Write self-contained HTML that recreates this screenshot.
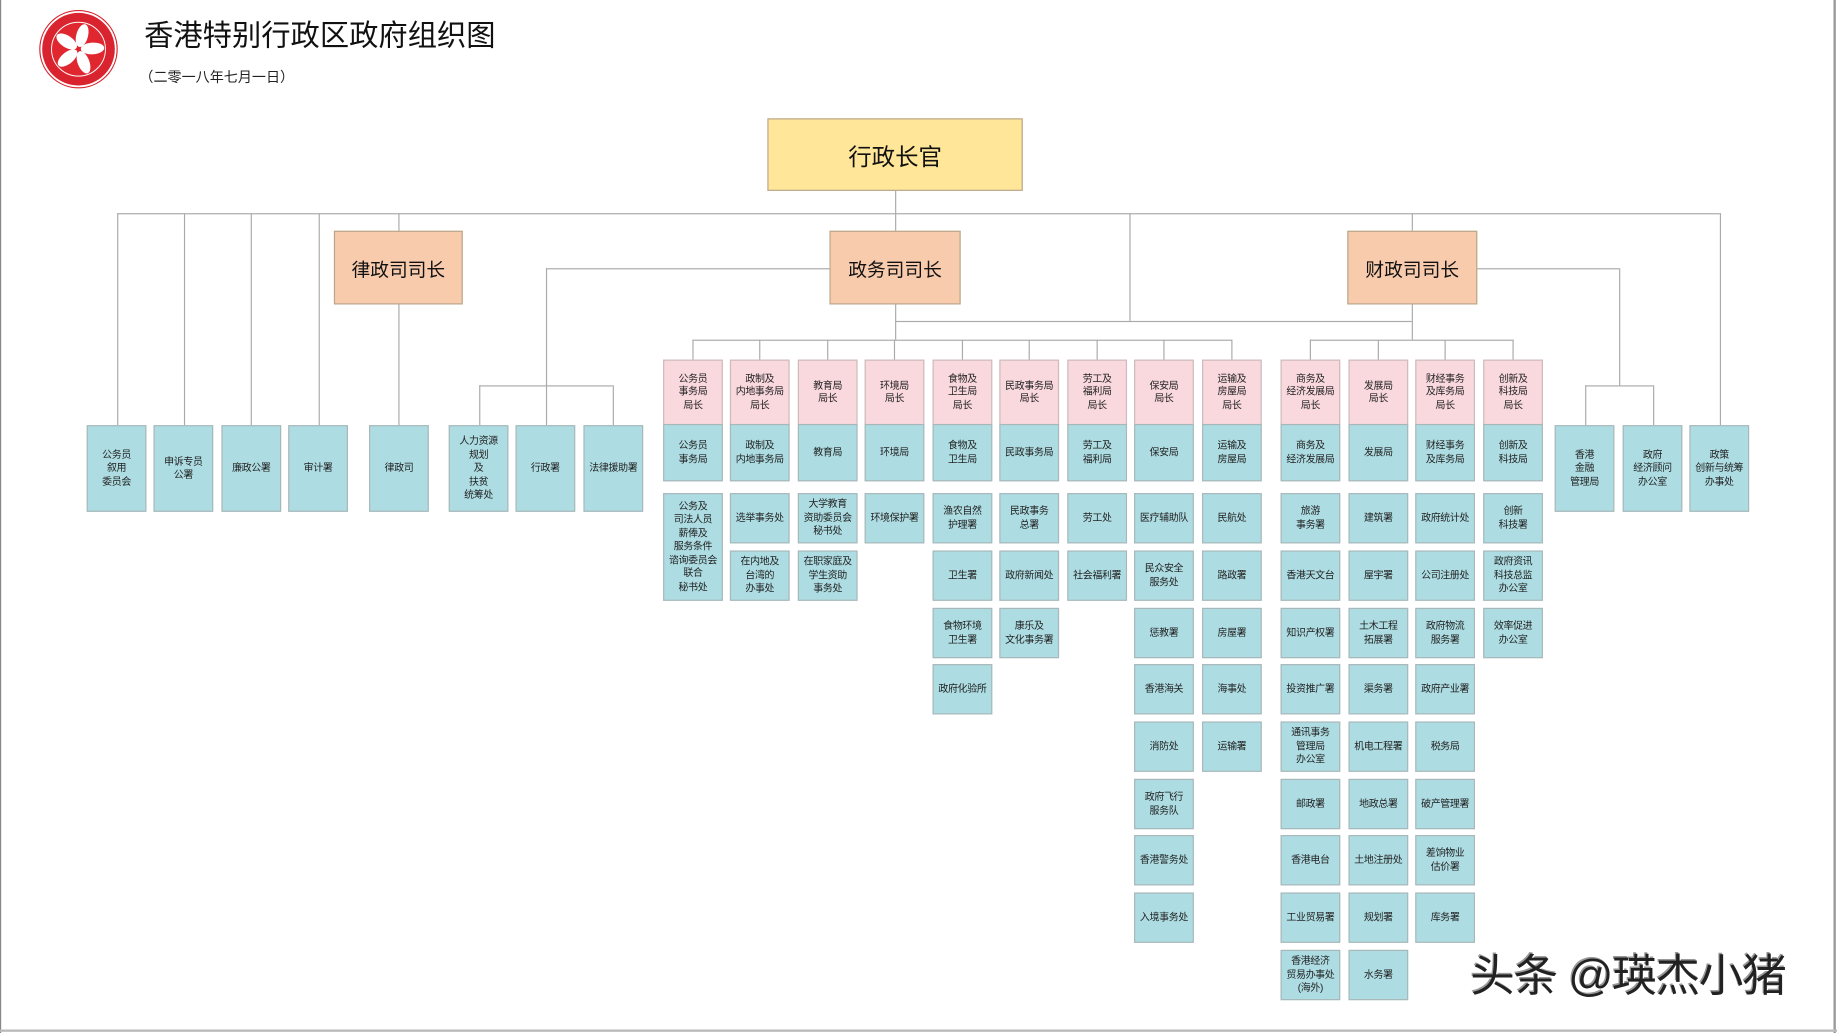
<!DOCTYPE html>
<html><head><meta charset="utf-8"><style>
html,body{margin:0;padding:0;background:#fff;}
body{width:1837px;height:1033px;overflow:hidden;position:relative;}
#s{position:absolute;left:0;top:0;width:1568px;height:882px;transform:scale(1.17156,1.1712);transform-origin:0 0;font-family:"Liberation Sans","Noto Sans CJK SC",sans-serif;}
.b{position:absolute;width:51px;display:flex;align-items:center;justify-content:center;text-align:center;font-size:8.5px;line-height:11.5px;border:1px solid #a9b7b9;box-sizing:border-box;color:#222;background:#addde3;letter-spacing:-0.3px;}
.p{background:#f9d8de;border-color:#cbb;}
.h{position:absolute;background:#aaa;height:1px;}
.v{position:absolute;background:#aaa;width:1px;}
.big{position:absolute;display:flex;align-items:center;justify-content:center;border:1px solid #b9a68a;box-sizing:border-box;color:#111;}
</style></head><body><div id="s">
<div style="position:absolute;left:0;top:0;width:1px;height:882px;background:#888"></div>
<div style="position:absolute;left:1565px;top:0;width:2px;height:882px;background:#999"></div>
<div style="position:absolute;left:0;top:879px;width:1568px;height:2px;background:#bbb"></div>
<svg style="position:absolute;left:33px;top:8px" width="68" height="68" viewBox="0 0 68 68">
<circle cx="34" cy="34" r="33" fill="#fff" stroke="#d9232e" stroke-width="1"/>
<circle cx="34" cy="34" r="31" fill="#d9232e"/>
<circle cx="34" cy="34" r="23" fill="#e0262f" stroke="#fff" stroke-width="0.8"/>
<g fill="#fff">
<ellipse cx="34" cy="22" rx="5" ry="10" transform="rotate(15 34 34)"/>
<ellipse cx="34" cy="22" rx="5" ry="10" transform="rotate(87 34 34)"/>
<ellipse cx="34" cy="22" rx="5" ry="10" transform="rotate(159 34 34)"/>
<ellipse cx="34" cy="22" rx="5" ry="10" transform="rotate(231 34 34)"/>
<ellipse cx="34" cy="22" rx="5" ry="10" transform="rotate(303 34 34)"/>
</g></svg>
<div style="position:absolute;left:123px;top:11px;font-size:25px;color:#111;">香港特别行政区政府组织图</div>
<div style="position:absolute;left:119px;top:57px;font-size:12px;color:#222;">（二零一八年七月一日）</div>

<div class="big" style="left:655px;top:101px;width:218px;height:62px;background:#ffe699;font-size:20px;">行政长官</div>
<div class="big" style="left:285px;top:197px;width:110px;height:63px;background:#f8cbad;font-size:16px;">律政司司长</div>
<div class="big" style="left:708px;top:197px;width:112px;height:63px;background:#f8cbad;font-size:16px;">政务司司长</div>
<div class="big" style="left:1150px;top:197px;width:111px;height:63px;background:#f8cbad;font-size:16px;">财政司司长</div>

<div class="h" style="left:100px;top:182px;width:1368px"></div>
<div class="v" style="left:764px;top:163px;height:34px"></div>
<div class="v" style="left:100px;top:182px;height:181px"></div>
<div class="v" style="left:157px;top:182px;height:181px"></div>
<div class="v" style="left:214px;top:182px;height:181px"></div>
<div class="v" style="left:272px;top:182px;height:181px"></div>
<div class="v" style="left:340px;top:182px;height:15px"></div>
<div class="v" style="left:340px;top:260px;height:103px"></div>
<div class="v" style="left:964px;top:182px;height:92px"></div>
<div class="v" style="left:1205px;top:182px;height:15px"></div>
<div class="v" style="left:1468px;top:182px;height:181px"></div>
<div class="h" style="left:466px;top:229px;width:242px"></div>
<div class="v" style="left:466px;top:229px;height:134px"></div>
<div class="h" style="left:409px;top:329px;width:114px"></div>
<div class="v" style="left:409px;top:329px;height:34px"></div>
<div class="v" style="left:523px;top:329px;height:34px"></div>
<div class="v" style="left:764px;top:260px;height:30px"></div>
<div class="h" style="left:764px;top:274px;width:441px"></div>
<div class="v" style="left:1205px;top:260px;height:30px"></div>
<div class="h" style="left:591px;top:290px;width:461px"></div>
<div class="h" style="left:1118px;top:290px;width:174px"></div>
<div class="h" style="left:1261px;top:229px;width:121px"></div>
<div class="v" style="left:1382px;top:229px;height:100px"></div>
<div class="h" style="left:1353px;top:329px;width:58px"></div>
<div class="v" style="left:1353px;top:329px;height:34px"></div>
<div class="v" style="left:1411px;top:329px;height:34px"></div>
<div class="v" style="left:591px;top:290px;height:17px"></div>
<div class="v" style="left:648px;top:290px;height:17px"></div>
<div class="v" style="left:706px;top:290px;height:17px"></div>
<div class="v" style="left:763px;top:290px;height:17px"></div>
<div class="v" style="left:821px;top:290px;height:17px"></div>
<div class="v" style="left:878px;top:290px;height:17px"></div>
<div class="v" style="left:936px;top:290px;height:17px"></div>
<div class="v" style="left:993px;top:290px;height:17px"></div>
<div class="v" style="left:1051px;top:290px;height:17px"></div>
<div class="v" style="left:1118px;top:290px;height:17px"></div>
<div class="v" style="left:1176px;top:290px;height:17px"></div>
<div class="v" style="left:1233px;top:290px;height:17px"></div>
<div class="v" style="left:1291px;top:290px;height:17px"></div>

<div class="b" style="left:74px;top:363px;height:74px">公务员<br>叙用<br>委员会</div>
<div class="b" style="left:131px;top:363px;height:74px">申诉专员<br>公署</div>
<div class="b" style="left:189px;top:363px;height:74px">廉政公署</div>
<div class="b" style="left:246px;top:363px;height:74px">审计署</div>
<div class="b" style="left:315px;top:363px;height:74px">律政司</div>
<div class="b" style="left:383px;top:363px;height:74px">人力资源<br>规划<br>及<br>扶贫<br>统筹处</div>
<div class="b" style="left:440px;top:363px;height:74px">行政署</div>
<div class="b" style="left:498px;top:363px;height:74px">法律援助署</div>
<div class="b" style="left:1327px;top:363px;height:74px">香港<br>金融<br>管理局</div>
<div class="b" style="left:1385px;top:363px;height:74px">政府<br>经济顾问<br>办公室</div>
<div class="b" style="left:1442px;top:363px;height:74px">政策<br>创新与统筹<br>办事处</div>

<div class="b p" style="left:566px;top:307px;height:56px">公务员<br>事务局<br>局长</div>
<div class="b" style="left:566px;top:362px;height:49px">公务员<br>事务局</div>
<div class="b" style="left:566px;top:421px;height:92px">公务及<br>司法人员<br>薪俸及<br>服务条件<br>谘询委员会<br>联合<br>秘书处</div>
<div class="b p" style="left:623px;top:307px;height:56px">政制及<br>内地事务局<br>局长</div>
<div class="b" style="left:623px;top:362px;height:49px">政制及<br>内地事务局</div>
<div class="b" style="left:623px;top:421px;height:43px">选举事务处</div>
<div class="b" style="left:623px;top:470px;height:43px">在内地及<br>台湾的<br>办事处</div>
<div class="b p" style="left:681px;top:307px;height:56px">教育局<br>局长</div>
<div class="b" style="left:681px;top:362px;height:49px">教育局</div>
<div class="b" style="left:681px;top:421px;height:43px">大学教育<br>资助委员会<br>秘书处</div>
<div class="b" style="left:681px;top:470px;height:43px">在职家庭及<br>学生资助<br>事务处</div>
<div class="b p" style="left:738px;top:307px;height:56px">环境局<br>局长</div>
<div class="b" style="left:738px;top:362px;height:49px">环境局</div>
<div class="b" style="left:738px;top:421px;height:43px">环境保护署</div>
<div class="b p" style="left:796px;top:307px;height:56px">食物及<br>卫生局<br>局长</div>
<div class="b" style="left:796px;top:362px;height:49px">食物及<br>卫生局</div>
<div class="b" style="left:796px;top:421px;height:43px">渔农自然<br>护理署</div>
<div class="b" style="left:796px;top:470px;height:43px">卫生署</div>
<div class="b" style="left:796px;top:519px;height:43px">食物环境<br>卫生署</div>
<div class="b" style="left:796px;top:567px;height:43px">政府化验所</div>
<div class="b p" style="left:853px;top:307px;height:56px">民政事务局<br>局长</div>
<div class="b" style="left:853px;top:362px;height:49px">民政事务局</div>
<div class="b" style="left:853px;top:421px;height:43px">民政事务<br>总署</div>
<div class="b" style="left:853px;top:470px;height:43px">政府新闻处</div>
<div class="b" style="left:853px;top:519px;height:43px">康乐及<br>文化事务署</div>
<div class="b p" style="left:911px;top:307px;height:56px">劳工及<br>福利局<br>局长</div>
<div class="b" style="left:911px;top:362px;height:49px">劳工及<br>福利局</div>
<div class="b" style="left:911px;top:421px;height:43px">劳工处</div>
<div class="b" style="left:911px;top:470px;height:43px">社会福利署</div>
<div class="b p" style="left:968px;top:307px;height:56px">保安局<br>局长</div>
<div class="b" style="left:968px;top:362px;height:49px">保安局</div>
<div class="b" style="left:968px;top:421px;height:43px">医疗辅助队</div>
<div class="b" style="left:968px;top:470px;height:43px">民众安全<br>服务处</div>
<div class="b" style="left:968px;top:519px;height:43px">惩教署</div>
<div class="b" style="left:968px;top:567px;height:43px">香港海关</div>
<div class="b" style="left:968px;top:616px;height:43px">消防处</div>
<div class="b" style="left:968px;top:665px;height:43px">政府飞行<br>服务队</div>
<div class="b" style="left:968px;top:713px;height:43px">香港警务处</div>
<div class="b" style="left:968px;top:762px;height:43px">入境事务处</div>
<div class="b p" style="left:1026px;top:307px;height:56px">运输及<br>房屋局<br>局长</div>
<div class="b" style="left:1026px;top:362px;height:49px">运输及<br>房屋局</div>
<div class="b" style="left:1026px;top:421px;height:43px">民航处</div>
<div class="b" style="left:1026px;top:470px;height:43px">路政署</div>
<div class="b" style="left:1026px;top:519px;height:43px">房屋署</div>
<div class="b" style="left:1026px;top:567px;height:43px">海事处</div>
<div class="b" style="left:1026px;top:616px;height:43px">运输署</div>
<div class="b p" style="left:1093px;top:307px;height:56px">商务及<br>经济发展局<br>局长</div>
<div class="b" style="left:1093px;top:362px;height:49px">商务及<br>经济发展局</div>
<div class="b" style="left:1093px;top:421px;height:43px">旅游<br>事务署</div>
<div class="b" style="left:1093px;top:470px;height:43px">香港天文台</div>
<div class="b" style="left:1093px;top:519px;height:43px">知识产权署</div>
<div class="b" style="left:1093px;top:567px;height:43px">投资推广署</div>
<div class="b" style="left:1093px;top:616px;height:43px">通讯事务<br>管理局<br>办公室</div>
<div class="b" style="left:1093px;top:665px;height:43px">邮政署</div>
<div class="b" style="left:1093px;top:713px;height:43px">香港电台</div>
<div class="b" style="left:1093px;top:762px;height:43px">工业贸易署</div>
<div class="b" style="left:1093px;top:811px;height:43px">香港经济<br>贸易办事处<br>(海外)</div>
<div class="b p" style="left:1151px;top:307px;height:56px">发展局<br>局长</div>
<div class="b" style="left:1151px;top:362px;height:49px">发展局</div>
<div class="b" style="left:1151px;top:421px;height:43px">建筑署</div>
<div class="b" style="left:1151px;top:470px;height:43px">屋宇署</div>
<div class="b" style="left:1151px;top:519px;height:43px">土木工程<br>拓展署</div>
<div class="b" style="left:1151px;top:567px;height:43px">渠务署</div>
<div class="b" style="left:1151px;top:616px;height:43px">机电工程署</div>
<div class="b" style="left:1151px;top:665px;height:43px">地政总署</div>
<div class="b" style="left:1151px;top:713px;height:43px">土地注册处</div>
<div class="b" style="left:1151px;top:762px;height:43px">规划署</div>
<div class="b" style="left:1151px;top:811px;height:43px">水务署</div>
<div class="b p" style="left:1208px;top:307px;height:56px">财经事务<br>及库务局<br>局长</div>
<div class="b" style="left:1208px;top:362px;height:49px">财经事务<br>及库务局</div>
<div class="b" style="left:1208px;top:421px;height:43px">政府统计处</div>
<div class="b" style="left:1208px;top:470px;height:43px">公司注册处</div>
<div class="b" style="left:1208px;top:519px;height:43px">政府物流<br>服务署</div>
<div class="b" style="left:1208px;top:567px;height:43px">政府产业署</div>
<div class="b" style="left:1208px;top:616px;height:43px">税务局</div>
<div class="b" style="left:1208px;top:665px;height:43px">破产管理署</div>
<div class="b" style="left:1208px;top:713px;height:43px">差饷物业<br>估价署</div>
<div class="b" style="left:1208px;top:762px;height:43px">库务署</div>
<div class="b p" style="left:1266px;top:307px;height:56px">创新及<br>科技局<br>局长</div>
<div class="b" style="left:1266px;top:362px;height:49px">创新及<br>科技局</div>
<div class="b" style="left:1266px;top:421px;height:43px">创新<br>科技署</div>
<div class="b" style="left:1266px;top:470px;height:43px">政府资讯<br>科技总监<br>办公室</div>
<div class="b" style="left:1266px;top:519px;height:43px">效率促进<br>办公室</div>

<div style="position:absolute;left:1255px;top:812px;font-size:38px;line-height:44px;color:#222;white-space:nowrap;letter-spacing:-1px;text-shadow:1px 1px 0 #fff,-1px -1px 0 #999;">头条 @瑛杰小猪</div>
</div></body></html>
